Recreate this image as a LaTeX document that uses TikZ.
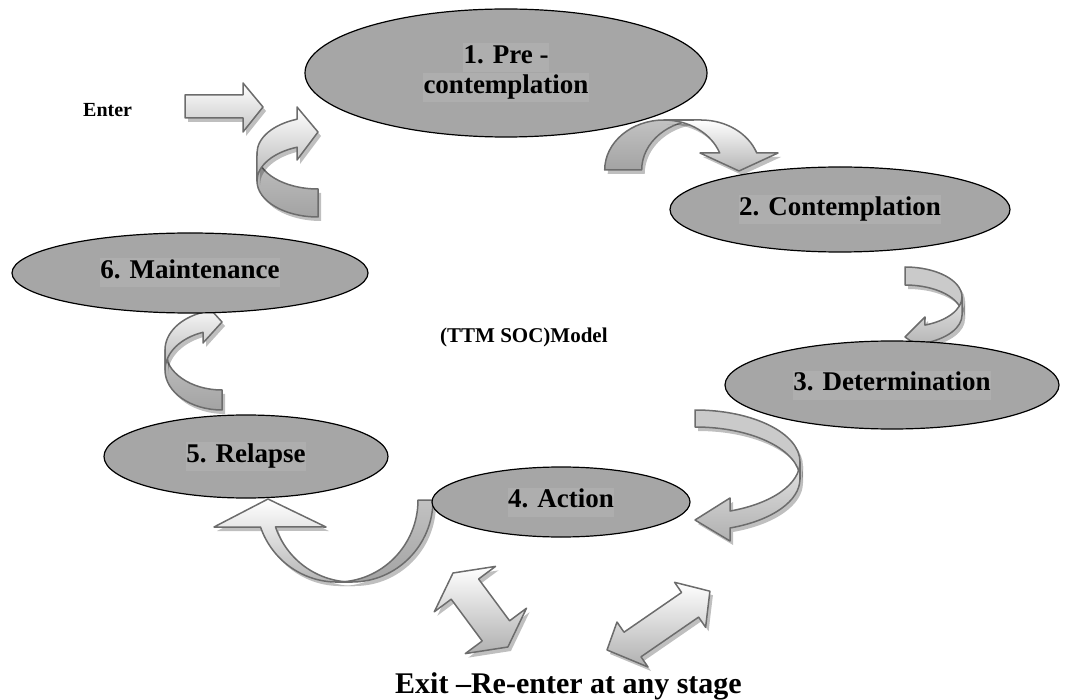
\documentclass[tikz,border=0pt]{standalone}
\usepackage{fontspec}
\setmainfont{Liberation Serif}
\usetikzlibrary{shapes.geometric,shadows}
\definecolor{stagefill}{RGB}{166,166,166}
\definecolor{labelfill}{RGB}{174,174,174}
\definecolor{rimgray}{RGB}{108,108,108}
\definecolor{bandgray}{RGB}{202,202,202}
\setlength{\fboxsep}{0.5pt}
\newcommand{\stagetext}[1]{\colorbox{labelfill}{\strut #1}}
\begin{document}
\begin{tikzpicture}[x=1pt,y=-1pt,
  stage/.style={ellipse, draw=black, line width=1.2pt, fill=stagefill,
    inner sep=0pt, outer sep=0pt, align=center,
    font=\bfseries\fontsize{27}{28}\selectfont},
  blockarrow/.style={draw=rimgray, line width=1.5pt, line join=round,
    drop shadow={shadow xshift=3pt, shadow yshift=-4pt, fill=black, opacity=0.25}},
  frontband/.style={blockarrow, top color=white, bottom color=gray!58},
  backband/.style={blockarrow, top color=gray!48, bottom color=gray!72},
  flatband/.style={blockarrow, fill=bandgray},
  paleband/.style={blockarrow, top color=gray!22, bottom color=gray!62},
  caption/.style={inner sep=0pt, anchor=base west, font=\bfseries},
]
\useasboundingbox (0,0) rectangle (1068,700);

% entry arrow
\draw[blockarrow, top color=white, bottom color=gray!45]
  (185,95) -- (243,95) -- (243,83) -- (263,107) -- (243,132) -- (243,118) -- (185,118) -- cycle;

% 6 -> 1 : curved band turning right
\draw[backband] (257,153) arc[start angle=180, end angle=90, x radius=61, y radius=36]
  -- (318,217) arc[start angle=90, end angle=180, x radius=61, y radius=36] -- cycle;
\draw[frontband] (297.1,119.2) -- (297,107) -- (318,132) -- (297,160) -- (297.1,147.2)
  arc[start angle=250, end angle=180, x radius=61, y radius=36]
  -- (257,153) arc[start angle=180, end angle=250, x radius=61, y radius=36] -- cycle;

% 1 -> 2 : curved band turning down
\draw[backband] (604.7,170) arc[start angle=180, end angle=270, x radius=59.3, y radius=50]
  -- (701,120) arc[start angle=270, end angle=180, x radius=59.3, y radius=50] -- cycle;
\draw[frontband] (701,120) arc[start angle=-90, end angle=-19.9, x radius=59.3, y radius=50]
  -- (778,153) -- (739,171) -- (700,153) -- (719.7,153)
  arc[start angle=-19.9, end angle=-90, x radius=59.3, y radius=50] -- cycle;

% 2 -> 3 : curved band turning left
\draw[flatband] (905,267) arc[start angle=-90, end angle=0, x radius=57, y radius=30]
  -- (962,315) arc[start angle=0, end angle=-90, x radius=57, y radius=30] -- cycle;
\draw[paleband] (962,297) arc[start angle=0, end angle=69.5, x radius=57, y radius=30]
  -- (925,317) -- (905,337) -- (925,351) -- (925,343.1)
  arc[start angle=69.5, end angle=0, x radius=57, y radius=30] -- cycle;

% 3 -> 4 : wide band turning left
\draw[flatband] (695,410) arc[start angle=-90, end angle=0, x radius=105, y radius=52]
  -- (800,479) arc[start angle=0, end angle=-90, x radius=105, y radius=52] -- cycle;
\draw[paleband] (800,462) arc[start angle=0, end angle=70.5, x radius=105, y radius=52]
  -- (730,498) -- (695,520) -- (730,541) -- (730,528)
  arc[start angle=70.5, end angle=0, x radius=105, y radius=52] -- cycle;

% 4 -> 5 : U-turn band pointing up
\draw[backband] (418,500) arc[start angle=0, end angle=90, x radius=81, y radius=82]
  -- (352,582) arc[start angle=90, end angle=0, x radius=81, y radius=82] -- cycle;
\draw[frontband] (352,582) arc[start angle=90, end angle=160.8, x radius=81, y radius=82]
  -- (326,527) -- (268,499) -- (214,527) -- (260.5,527)
  arc[start angle=160.8, end angle=90, x radius=81, y radius=82] -- cycle;

% 5 -> 6 : curved band turning right
\draw[backband] (165,350) arc[start angle=180, end angle=90, x radius=57, y radius=40]
  -- (222,410) arc[start angle=90, end angle=180, x radius=57, y radius=40] -- cycle;
\draw[frontband] (203,312.3) -- (203,301) -- (222,322) -- (203,343) -- (203,332.3)
  arc[start angle=250.5, end angle=180, x radius=57, y radius=40]
  -- (165,350) arc[start angle=180, end angle=250.5, x radius=57, y radius=40] -- cycle;

% exit / re-enter double arrows
\draw[blockarrow, top color=white, bottom color=gray!62]
  (453,573) -- (495.5,566.4) -- (478.6,579.0) -- (509.6,620.8) -- (526.5,608.2)
  -- (507.9,647.0) -- (465.3,653.6) -- (482.2,641.0) -- (451.2,599.2) -- (434.3,611.8) -- cycle;
\draw[blockarrow, top color=white, bottom color=gray!62]
  (607,650) -- (648,667) -- (641.0,656.8) -- (698.6,617.1) -- (705.6,627.3)
  -- (709.9,591.2) -- (674.6,582.3) -- (681.6,592.5) -- (624.0,632.2) -- (617,622) -- cycle;

% stages
\node[stage, minimum width=402pt, minimum height=128pt] (s1) at (506,73)
  {\stagetext{1. Pre -}\\\stagetext{contemplation}};
\node[stage, minimum width=340pt, minimum height=85pt] (s2) at (840,209.5)
  {\stagetext{2. Contemplation}};
\node[stage, minimum width=334pt, minimum height=88pt] (s3) at (892,385)
  {\stagetext{3. Determination}};
\node[stage, minimum width=258pt, minimum height=70pt] (s4) at (561,502)
  {\stagetext{4. Action}};
\node[stage, minimum width=284pt, minimum height=83pt] (s5) at (246,456.5)
  {\stagetext{5. Relapse}};
\node[stage, minimum width=356pt, minimum height=80pt] (s6) at (190,273)
  {\stagetext{6. Maintenance}};

% captions
\node[caption, font=\bfseries\fontsize{20}{24}\selectfont] (enter) at (83,117) {Enter};
\node[caption, font=\bfseries\fontsize{21}{24}\selectfont] (model) at (440,343) {(TTM SOC)Model};
\node[caption, font=\bfseries\fontsize{30}{34}\selectfont] (exit) at (395,693) {Exit –Re-enter at any stage};
\end{tikzpicture}
\end{document}
